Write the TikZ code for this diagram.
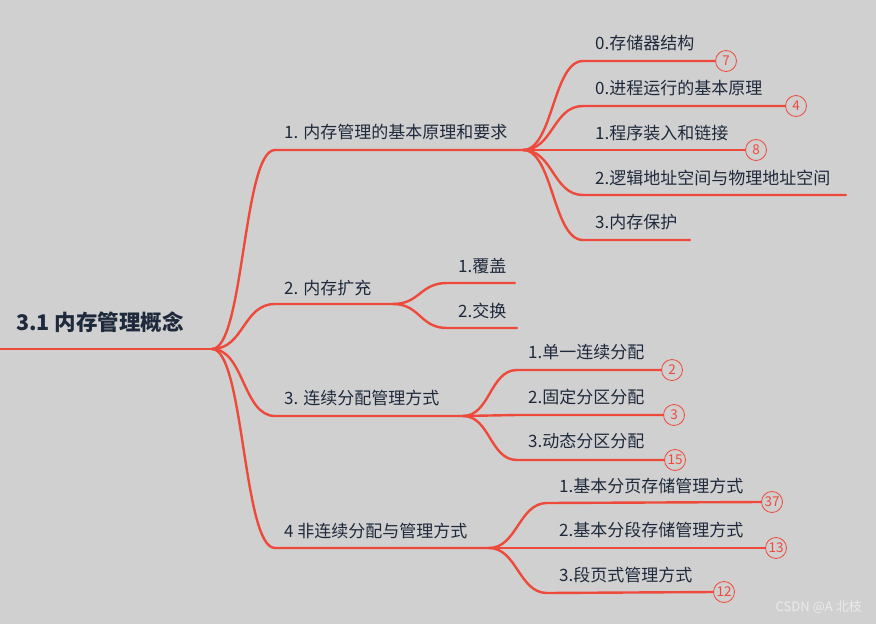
\documentclass[tikz,border=0pt]{standalone}
\usepackage{fontspec}
\setmainfont{Noto Sans CJK SC}
\definecolor{paper}{HTML}{D0D0D0}
\definecolor{mapred}{HTML}{EE4A3B}
\definecolor{ink}{HTML}{1E293B}

\begin{document}
\begin{tikzpicture}[x=1pt, y=-1pt,
    root/.style={anchor=west, inner sep=0pt, text=ink,
        font=\fontsize{21.5}{24}\selectfont\bfseries},
    topic/.style={anchor=west, inner sep=0pt, text=ink,
        font=\fontsize{17}{19}\selectfont},
    badge/.style={circle, draw=mapred, thick, fill=paper, text=mapred,
        minimum size=21pt, inner sep=0pt, font=\fontsize{13.5}{13.5}\selectfont},
    branch/.style={draw=mapred, line width=2.4pt, line cap=round}
]
    \useasboundingbox[fill=paper] (0,0) rectangle (876,624);

    % root
    \coordinate (r0) at (0,349);
    \coordinate (j0) at (212,349);
    \node[root] (root) at (16,322) {3.1 内存管理概念};
    \draw[branch] (r0) -- (j0);

    % first level
    \coordinate (s1) at (275,150);  \coordinate (j1) at (523,150);
    \coordinate (s2) at (275,304);  \coordinate (j2) at (393,304);
    \coordinate (s3) at (275,416);  \coordinate (j3) at (463,416);
    \coordinate (s4) at (275,548);  \coordinate (j4) at (489,548);
    \node[topic] (t1) at (284,132) {1. 内存管理的基本原理和要求};
    \node[topic] (t2) at (284,288) {2. 内存扩充};
    \node[topic] (t3) at (284,398) {3. 连续分配管理方式};
    \node[topic] (t4) at (284,531) {4 非连续分配与管理方式};
    \draw[branch] (j0) .. controls +(32,0) and +(-32,0) .. (s1) -- (j1);
    \draw[branch] (j0) .. controls +(32,0) and +(-32,0) .. (s2) -- (j2);
    \draw[branch] (j0) .. controls +(32,0) and +(-32,0) .. (s3) -- (j3);
    \draw[branch] (j0) .. controls +(32,0) and +(-32,0) .. (s4) -- (j4);

    % 1. children
    \coordinate (s11) at (583,61);   \node[badge] (b11) at (726,61) {7};
    \coordinate (s12) at (583,106);  \node[badge] (b12) at (796,106) {4};
    \coordinate (s13) at (583,150);  \node[badge] (b13) at (756,150) {8};
    \coordinate (s14) at (583,195);  \coordinate (e14) at (846,195);
    \coordinate (s15) at (583,240);  \coordinate (e15) at (690,240);
    \node[topic] (t11) at (595,43) {0.存储器结构};
    \node[topic] (t12) at (595,88) {0.进程运行的基本原理};
    \node[topic] (t13) at (595,133) {1.程序装入和链接};
    \node[topic] (t14) at (595,178) {2.逻辑地址空间与物理地址空间};
    \node[topic] (t15) at (595,222) {3.内存保护};
    \draw[branch] (j1) .. controls +(30,0) and +(-30,0) .. (s11) -- (b11.west);
    \draw[branch] (j1) .. controls +(30,0) and +(-30,0) .. (s12) -- (b12.west);
    \draw[branch] (j1) -- (s13) -- (b13.west);
    \draw[branch] (j1) .. controls +(30,0) and +(-30,0) .. (s14) -- (e14);
    \draw[branch] (j1) .. controls +(30,0) and +(-30,0) .. (s15) -- (e15);

    % 2. children
    \coordinate (s21) at (447,283);  \coordinate (e21) at (515,283);
    \coordinate (s22) at (447,328);  \coordinate (e22) at (517,328);
    \node[topic] (t21) at (458,266) {1.覆盖};
    \node[topic] (t22) at (458,311) {2.交换};
    \draw[branch] (j2) .. controls +(27,0) and +(-27,0) .. (s21) -- (e21);
    \draw[branch] (j2) .. controls +(27,0) and +(-27,0) .. (s22) -- (e22);

    % 3. children
    \coordinate (s31) at (517,370);  \node[badge] (b31) at (672,370) {2};
    \coordinate (s32) at (517,415);  \node[badge] (b32) at (674,415) {3};
    \coordinate (s33) at (517,460);  \node[badge] (b33) at (675,460) {15};
    \node[topic] (t31) at (528,352) {1.单一连续分配};
    \node[topic] (t32) at (528,397) {2.固定分区分配};
    \node[topic] (t33) at (528,441) {3.动态分区分配};
    \draw[branch] (j3) .. controls +(27,0) and +(-27,0) .. (s31) -- (b31.west);
    \draw[branch] (j3) .. controls +(27,0) and +(-27,0) .. (s32) -- (b32.west);
    \draw[branch] (j3) .. controls +(27,0) and +(-27,0) .. (s33) -- (b33.west);

    % 4 children
    \coordinate (s41) at (547,503);  \node[badge] (b41) at (772,502) {37};
    \coordinate (s42) at (547,548);  \node[badge] (b42) at (776,548) {13};
    \coordinate (s43) at (547,593);  \node[badge] (b43) at (724,592) {12};
    \node[topic] (t41) at (559,486) {1.基本分页存储管理方式};
    \node[topic] (t42) at (559,530) {2.基本分段存储管理方式};
    \node[topic] (t43) at (559,575) {3.段页式管理方式};
    \draw[branch] (j4) .. controls +(28,0) and +(-28,0) .. (s41) -- (b41.west);
    \draw[branch] (j4) .. controls +(28,0) and +(-28,0) .. (s42) -- (b42.west);
    \draw[branch] (j4) .. controls +(28,0) and +(-28,0) .. (s43) -- (b43.west);

    \node[anchor=east, inner sep=0pt, text=white!92!black,
        font=\fontsize{13}{14}\selectfont] (wm) at (862,607) {CSDN @A 北枝};
\end{tikzpicture}
\end{document}
